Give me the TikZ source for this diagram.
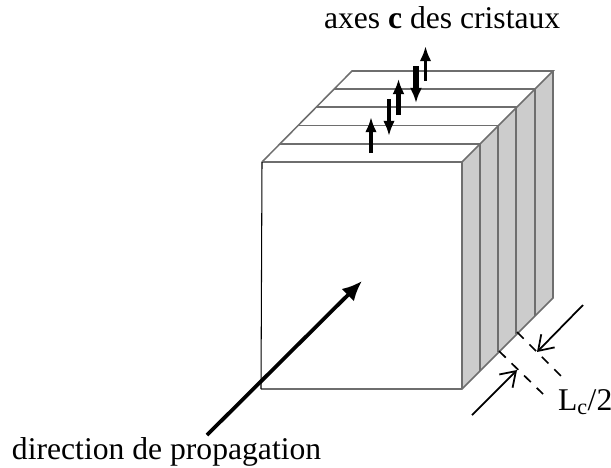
\documentclass[tikz,border=0pt]{standalone}
\usepackage{fontspec}
\usepackage{xcolor}
\usetikzlibrary{arrows.meta}
\setmainfont{Liberation Serif}
\definecolor{SlabGray}{HTML}{CCCCCC}
\definecolor{EdgeGray}{HTML}{6E6E6E}
\begin{document}
\begin{tikzpicture}[x=0.03cm, y=-0.03cm, font=\fontsize{27}{30}\selectfont,
  edge/.style={draw=EdgeGray, line width=1.3pt},
  caption/.style={anchor=base west, inner sep=0pt, outer sep=0pt},
  thickarr/.style={-{Latex[length=13pt,width=10.5pt]}, line width=4.6pt, black},
  thinarr/.style={-{Latex[length=13pt,width=10pt]}, line width=3.3pt, black},
  propag/.style={-{Latex[length=17pt,width=15pt]}, line width=3.2pt, black},
  openarr/.style={-{Straight Barb[length=12pt,width=16pt]}, line width=1.5pt, black},
  dimline/.style={dash pattern=on 8pt off 7pt, line width=1.4pt, black}]
\useasboundingbox (0,0) rectangle (611,467);

\fill[SlabGray] (462,162) -- (553,71) -- (553,298) -- (462,389) -- cycle;
\draw[edge] (262,162) -- (352,71) -- (553,71) -- (462,162);
\draw[edge] (553,71) -- (553,298) -- (462,389) -- (261,389);
\draw[edge] (262,162) -- (462,162) -- (462,389);
\draw[line width=0.9pt, black] (262,162) -- (261,389);

\draw[edge] (280,144) -- (480,144) -- (480,371);
\draw[edge] (298,125.5) -- (498,125.5) -- (498,352);
\draw[edge] (316,107) -- (516,107) -- (516,334);
\draw[edge] (334,89) -- (535,89) -- (535,316);

\coordinate (c1a) at (371,153);
\coordinate (c1b) at (371,117);
\coordinate (c2a) at (389,99);
\coordinate (c2b) at (389,136);
\coordinate (c3a) at (398.5,115);
\coordinate (c3b) at (398.5,79);
\coordinate (c4a) at (416,66);
\coordinate (c4b) at (416,103);
\coordinate (c5a) at (425.5,81);
\coordinate (c5b) at (425.5,46);
\draw[thinarr] (c1a) -- (c1b);
\draw[thinarr] (c2a) -- (c2b);
\draw[thickarr] (c3a) -- (c3b);
\draw[thickarr] (c4a) -- (c4b);
\draw[thinarr] (c5a) -- (c5b);

\coordinate (dir0) at (207,435);
\coordinate (dir1) at (362,281);
\draw[propag] (dir0) -- (dir1);

\coordinate (d1a) at (499,351);
\coordinate (d1b) at (543,394);
\coordinate (d2a) at (517,332);
\coordinate (d2b) at (562,377);
\draw[dimline] (d1a) -- (d1b);
\draw[dimline] (d2a) -- (d2b);

\coordinate (o1a) at (472,415);
\coordinate (o1b) at (517,370);
\coordinate (o2a) at (583,305);
\coordinate (o2b) at (537,352);
\draw[openarr] (o1a) -- (o1b);
\draw[openarr] (o2a) -- (o2b);

\node[caption] (axes) at (324,28) {axes \textbf{c} des cristaux};
\node[caption] (propagation) at (12,459) {direction de propagation};
\node[caption] (period) at (558,410) {L\textsubscript{c}/2};
\end{tikzpicture}
\end{document}
